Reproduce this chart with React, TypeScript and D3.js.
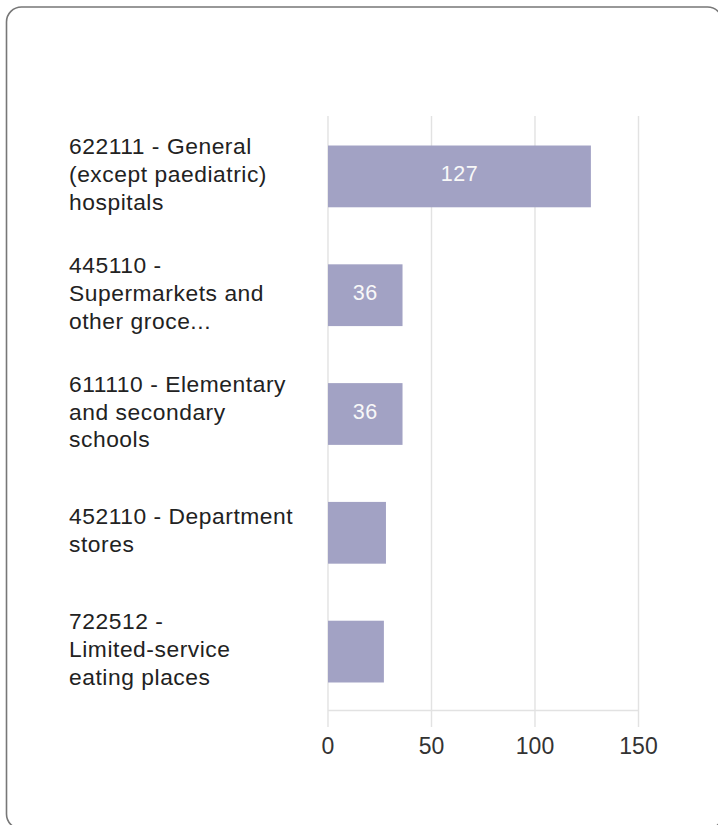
import React from "react";
import * as d3 from "d3";

const categories: string[][] = [
  ["622111 - General", "(except paediatric)", "hospitals"],
  ["445110 -", "Supermarkets and", "other groce..."],
  ["611110 - Elementary", "and secondary", "schools"],
  ["452110 - Department", "stores"],
  ["722512 -", "Limited-service", "eating places"],
];
const values: number[] = [127, 36, 36, 28, 27];
const xTicks: number[] = [0, 50, 100, 150];

const W = 718;
const H = 825;

export default function App() {
  const ids = categories.map((_, i) => String(i));
  const x = d3.scaleLinear().domain([0, 150]).range([328, 638.5]);
  const y = d3
    .scaleBand<string>()
    .domain(ids)
    .range([117, 711])
    .paddingInner(0.48)
    .paddingOuter(0.24);
  const gridTop = 116;
  const baseY = 710.5;
  const font = "'Liberation Sans', Arial, sans-serif";
  const lineH = 27.8;

  return (
    <svg
      width={W}
      height={H}
      style={{ position: "absolute", left: 0, top: 0, background: "#fff" }}
    >
      <rect
        x={6.5}
        y={7}
        width={716}
        height={822}
        rx={15}
        ry={15}
        fill="#fff"
        stroke="#777"
        strokeWidth={1.6}
      />
      {xTicks.map((t) => (
        <line
          key={"g" + t}
          x1={x(t)}
          x2={x(t)}
          y1={gridTop}
          y2={727}
          stroke="#e2e2e2"
          strokeWidth={1.4}
        />
      ))}
      <line
        x1={x(0)}
        x2={x(150)}
        y1={baseY}
        y2={baseY}
        stroke="#e2e2e2"
        strokeWidth={1.4}
      />
      {values.map((v, i) => {
        const yy = y(String(i))!;
        return (
          <rect
            key={"b" + i}
            x={x(0)}
            y={yy}
            width={x(v) - x(0)}
            height={y.bandwidth()}
            fill="#a2a2c4"
          />
        );
      })}
      {values.map((v, i) => {
        const w = x(v) - x(0);
        if (w < 70) return null;
        const cy = y(String(i))! + y.bandwidth() / 2;
        return (
          <text
            key={"v" + i}
            x={(x(0) + x(v)) / 2}
            y={cy + 5}
            textAnchor="middle"
            fontFamily={font}
            fontSize={21.5}
            letterSpacing={0.5}
            fill="#f8f8f8"
          >
            {v}
          </text>
        );
      })}
      {categories.map((lines, i) => {
        const cy = y(String(i))! + y.bandwidth() / 2;
        const n = lines.length;
        return (
          <text
            key={"c" + i}
            fontFamily={font}
            fontSize={22.8}
            letterSpacing={0.55}
            fill="#222"
          >
            {lines.map((ln, j) => (
              <tspan
                key={j}
                x={69}
                y={cy + (j - (n - 1) / 2) * lineH + 5.5}
              >
                {ln}
              </tspan>
            ))}
          </text>
        );
      })}
      {xTicks.map((t) => (
        <text
          key={"t" + t}
          x={x(t)}
          y={754}
          textAnchor="middle"
          fontFamily={font}
          fontSize={23}
          fill="#333"
        >
          {t}
        </text>
      ))}
    </svg>
  );
}
